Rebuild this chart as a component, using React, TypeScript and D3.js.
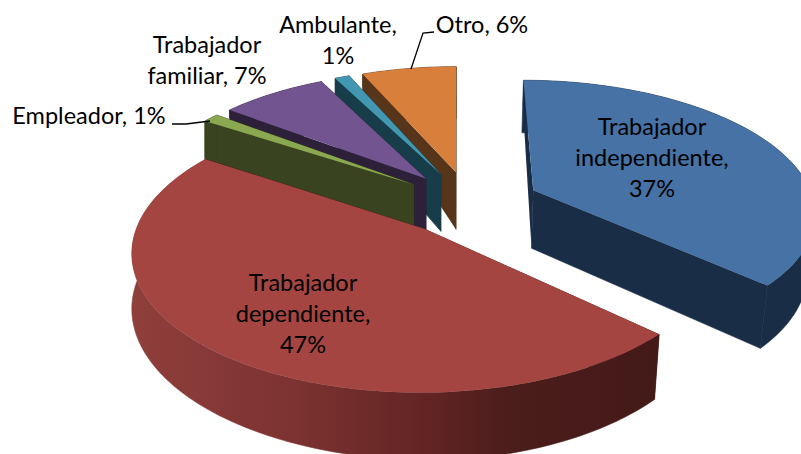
import React from "react";
import * as d3 from "d3";

// ---- data (percent shares; labels show them rounded)
const categories = ["Trabajador independiente", "Trabajador dependiente", "Empleador", "Trabajador familiar", "Ambulante", "Otro"];
const shares = [36.9, 47.4, 1.1, 7.2, 1.0, 6.4];

// ---- styles
const topColors = ["#4672a6", "#a54542", "#8aa84f", "#725490", "#4298b1", "#d87f3c"];
const sideColors = ["#1a2d47", "#431a18", "#39431f", "#2d2039", "#183d4a", "#57351a"];
const startWallFactor = [0.45, 1, 0.7, 0.15, 0.27, 0.27];
const paintOrder = [5, 4, 3, 2, 0, 1];
const redRimStops: [number, string][] = [
  [0, "#8f3f3c"], [0.3, "#7d3331"], [0.55, "#632524"], [0.72, "#4b1d1b"], [1, "#431a18"],
];

// ---- projection of the tilted, exploded pie
const W = 801, H = 454;
const cx = 470, cy = 203, vx = 457;
const rx = 281, ry = 130, persp = 0.15, explode = 0.25;
const baseDrop = 58, baseScaleRight = 0.977, baseScaleLeft = 1, baseLeftLift = 0.018, baseScaleY = 0.05, baseRefY = 190;

type P = [number, number];
const project = (U: number, V: number): P => {
  const d = 1 - persp * V;
  return [vx + (rx * U + cx - vx) / d, cy + (ry * V) / d];
};
const toBase = ([x, y]: P): P => [
  vx + (x - vx) * (x < vx ? baseScaleLeft : baseScaleRight),
  y + baseDrop + (y - baseRefY) * baseScaleY - Math.max(0, vx - x) * baseLeftLift,
];
const lerp = (a: P, b: P, t: number): P => [a[0] + (b[0] - a[0]) * t, a[1] + (b[1] - a[1]) * t];
const line = d3.line<P>().x((d) => d[0]).y((d) => d[1]);
const closed = (pts: P[]) => line(pts) + "Z";

const arcs = d3.pie<number>().sort(null).startAngle(0).endAngle(2 * Math.PI)(shares);

function geometry(i: number) {
  const a = arcs[i];
  const mid = (a.startAngle + a.endAngle) / 2;
  const ox = explode * Math.sin(mid);
  const oy = -explode * Math.cos(mid);
  const rim = (t: number) => project(ox + Math.sin(t), oy - Math.cos(t));
  const apex = project(ox, oy);
  const steps = Math.max(4, Math.ceil((a.endAngle - a.startAngle) / 0.02));
  const angles = d3.range(steps + 1).map((s) => a.startAngle + ((a.endAngle - a.startAngle) * s) / steps);
  const edge = angles.map(rim);
  const top = closed([apex, ...edge]);
  const rimWall = closed([...edge, ...edge.map(toBase).reverse()]);
  const wall = (p: P, f: number) => closed([apex, p, lerp(p, toBase(p), f), toBase(apex)]);
  return { top, rimWall, wallA: wall(edge[0], startWallFactor[i]), wallB: wall(edge[edge.length - 1], 1) };
}

const fontFamily = "Lato, Carlito, Calibri, sans-serif";
const labels: { x: number; y: number; lines: string[] }[] = [
  { x: 652, y: 135, lines: ["Trabajador", "independiente,", `${Math.round(shares[0])}%`] },
  { x: 303, y: 291, lines: ["Trabajador", "dependiente,", `${Math.round(shares[1])}%`] },
  { x: 89, y: 124, lines: [`${categories[2]}, ${Math.round(shares[2])}%`] },
  { x: 207, y: 53, lines: ["Trabajador", `familiar, ${Math.round(shares[3])}%`] },
  { x: 338, y: 33, lines: [`${categories[4]},`, `${Math.round(shares[4])}%`] },
  { x: 482, y: 33, lines: [`${categories[5]}, ${Math.round(shares[5])}%`] },
];
const leaders: P[][] = [
  [[172, 124], [186, 124], [210, 121]],
  [[434, 32], [423, 33], [411, 69]],
];

export default function App() {
  const geos = categories.map((_, i) => geometry(i));
  return (
    <svg width={W} height={H} viewBox={`0 0 ${W} ${H}`} style={{ position: "absolute", left: 0, top: 0, background: "#fff" }}>
      <defs>
        <linearGradient id="redRim" gradientUnits="userSpaceOnUse" x1={130} x2={660} y1={0} y2={0}>
          {redRimStops.map(([o, c]) => (
            <stop key={o} offset={o} stopColor={c} />
          ))}
        </linearGradient>
      </defs>
      {paintOrder.map((i) => {
        const side = i === 1 ? "url(#redRim)" : sideColors[i];
        return (
          <g key={categories[i]}>
            <path d={geos[i].wallB} fill={sideColors[i]} stroke={sideColors[i]} strokeWidth={0.6} />
            <path d={geos[i].wallA} fill={sideColors[i]} />
            <path d={geos[i].rimWall} fill={side} stroke={side} strokeWidth={0.6} />
            <path d={geos[i].top} fill={topColors[i]} />
          </g>
        );
      })}
      {leaders.map((l, i) => (
        <path key={i} d={line(l) as string} fill="none" stroke="#000" strokeWidth={1.3} />
      ))}
      {labels.map((l) => (
        <text key={l.lines[0] + l.x} textAnchor="middle" fontFamily={fontFamily} fontSize={23.5} fill="#000">
          {l.lines.map((t, j) => (
            <tspan key={j} x={l.x} y={l.y + j * 31}>{t}</tspan>
          ))}
        </text>
      ))}
    </svg>
  );
}
